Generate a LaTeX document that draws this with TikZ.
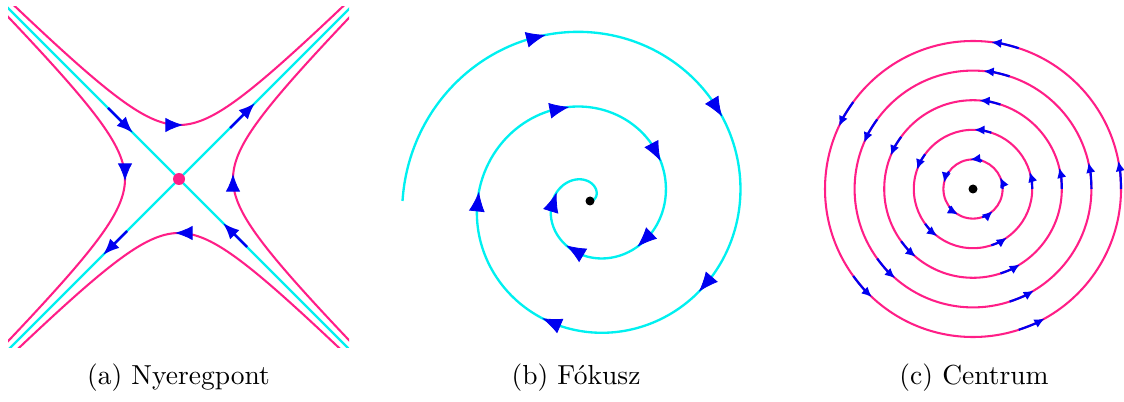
\documentclass[tikz,border=0pt]{standalone}
\usepackage{fontspec}
\usepackage{tikz}
\usetikzlibrary{arrows.meta, calc}
\definecolor{orbitpink}{RGB}{255, 30, 135}
\definecolor{sepcyan}{RGB}{0, 240, 240}
\definecolor{flowblue}{RGB}{0, 0, 240}

\begin{document}
\begin{tikzpicture}[
    x=0.3636pt, y=0.3636pt,
    orbit/.style={draw=orbitpink, line width=0.75pt},
    sepx/.style={draw=sepcyan, line width=0.85pt},
    flow/.style={-{Latex[length=6pt, width=4.8pt]}, draw=flowblue, line width=0.9pt},
    midhead/.style={-{Latex[length=6.4pt, width=5.2pt]}, draw=flowblue, line width=0.3pt},
    spiralhead/.style={-{Latex[length=7.2pt, width=5.8pt]}, draw=flowblue, line width=0.3pt},
    ringflow/.style={-{Latex[length=3.8pt, width=3.4pt]}, draw=flowblue, line width=0.8pt},
    subcap/.style={font=\normalsize, anchor=base}
]
\useasboundingbox (0,0) rectangle (1124,401);

% (a) Saddle point
\coordinate (s0) at (179, 222);
\coordinate (stl) at ($(s0)+(-190,190)$);
\coordinate (sbr) at ($(s0)+(190,-190)$);
\coordinate (str) at ($(s0)+(190,190)$);
\coordinate (sbl) at ($(s0)+(-190,-190)$);
\begin{scope}
  \clip (8,54) rectangle (349,394);
  \draw[sepx] (stl) -- (sbr);
  \draw[sepx] (sbl) -- (str);
  \begin{scope}[shift={(s0)}]
    \draw[orbit] plot[domain=-3.4:3.4, samples=69, smooth] ({54*\x}, {54*sqrt(\x*\x+1)});
    \draw[orbit] plot[domain=-3.4:3.4, samples=69, smooth] ({54*\x}, {-54*sqrt(\x*\x+1)});
    \draw[orbit] plot[domain=-3.4:3.4, samples=69, smooth] ({-54*sqrt(\x*\x+1)}, {54*\x});
    \draw[orbit] plot[domain=-3.4:3.4, samples=69, smooth] ({54*sqrt(\x*\x+1)}, {54*\x});
  \end{scope}
\end{scope}
% flow on the hyperbolas
\draw[midhead] ($(s0)+(-12,54)$) -- ($(s0)+(4,54)$);
\draw[midhead] ($(s0)+(12,-54)$) -- ($(s0)+(-4,-54)$);
\draw[midhead] ($(s0)+(-54,14)$) -- ($(s0)+(-54,-2)$);
\draw[midhead] ($(s0)+(54,-11)$) -- ($(s0)+(54,5)$);
% stable and unstable directions
\draw[flow] ($(s0)+(-71,71)$) -- ($(s0)+(-46,46)$);
\draw[flow] ($(s0)+(68,-68)$) -- ($(s0)+(44,-44)$);
\draw[flow] ($(s0)+(51,51)$) -- ($(s0)+(76,76)$);
\draw[flow] ($(s0)+(-52,-52)$) -- ($(s0)+(-76,-76)$);
\fill[orbitpink] (s0) circle[radius=6];

% (b) Focus
\coordinate (f0) at (590, 200);
\begin{scope}[shift={(f0)}]
  \draw[sepx] plot[domain=0:900, samples=361, smooth] ({\x}:{\x/4.8});
  \foreach \t in {180,252,...,828} {
    \pgfmathsetmacro\ta{\t+2600/\t}
    \pgfmathsetmacro\tb{\t-2600/\t}
    \draw[spiralhead] (\ta:{\ta/4.8}) -- (\tb:{\tb/4.8});
  }
\end{scope}
\fill (f0) circle[radius=4.5];

% (c) Centre
\coordinate (c0) at (973, 212);
\begin{scope}[shift={(c0)}]
  \foreach \k/\d in {1/24, 2/17, 3/14, 4/13, 5/11} {
    \draw[orbit] (0,0) circle[radius={29.6*\k}];
    \foreach \a in {0,72,...,288}
      \draw[ringflow] (\a:{29.6*\k}) arc[start angle=\a, delta angle=\d, radius={29.6*\k}];
  }
\end{scope}
\fill (c0) circle[radius=4.5];

% captions
\node[subcap] (capa) at (178.5, 17) {(a) Nyeregpont};
\node[subcap] (capb) at (576, 17) {(b) Fókusz};
\node[subcap] (capc) at (974, 17) {(c) Centrum};

\end{tikzpicture}
\end{document}
